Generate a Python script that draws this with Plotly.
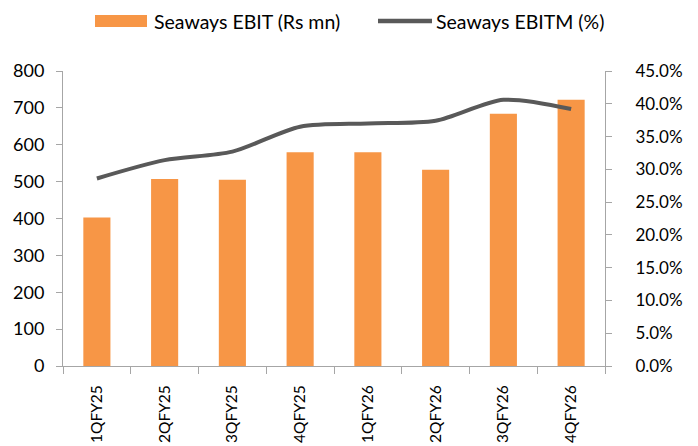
import plotly.graph_objects as go

categories = ["1QFY25", "2QFY25", "3QFY25", "4QFY25", "1QFY26", "2QFY26", "3QFY26", "4QFY26"]
ebit = [403, 507, 505, 580, 580, 532, 684, 722]
ebitm = [28.6, 31.4, 32.7, 36.5, 37.0, 37.4, 40.6, 39.2]
legend_labels = ["Seaways EBIT (Rs mn)", "Seaways EBITM (%)"]

font_family = "Lato, Open Sans, sans-serif"
axis_color = "#A6A6A6"
bar_color = "#F79646"
line_color = "#595959"

W, H = 698, 446
ML, MR, MT, MB = 63, 93, 71, 80
PW, PH = W - ML - MR, H - MT - MB


def px_x(px):
    return (px - ML) / PW


def px_y(py):
    return (H - MB - py) / PH


fig = go.Figure()
fig.add_trace(go.Bar(
    x=categories, y=ebit, name=legend_labels[0],
    marker=dict(color=bar_color, line=dict(width=0)), width=0.40,
    showlegend=False,
))
fig.add_trace(go.Scatter(
    x=categories, y=[v / 100 for v in ebitm], name=legend_labels[1],
    mode="lines", line=dict(color=line_color, width=4, shape="spline", smoothing=0.8),
    yaxis="y2", showlegend=False,
))

# legend drawn in paper space
fig.add_shape(type="rect", xref="paper", yref="paper",
              x0=px_x(95), x1=px_x(147), y0=px_y(27), y1=px_y(15),
              fillcolor=bar_color, line=dict(width=0), layer="above")
fig.add_shape(type="line", xref="paper", yref="paper",
              x0=px_x(378), x1=px_x(432), y0=px_y(21), y1=px_y(21),
              line=dict(color=line_color, width=4.5), layer="above")
fig.add_annotation(xref="paper", yref="paper", x=px_x(152), y=px_y(21),
                   text=legend_labels[0], showarrow=False, xanchor="left", yanchor="middle",
                   font=dict(size=19.5, family=font_family, color="#000000"))
fig.add_annotation(xref="paper", yref="paper", x=px_x(434), y=px_y(21),
                   text=legend_labels[1], showarrow=False, xanchor="left", yanchor="middle",
                   font=dict(size=19.5, family=font_family, color="#000000"))

fig.update_layout(
    width=W, height=H,
    margin=dict(l=ML, r=MR, t=MT, b=MB, autoexpand=False),
    paper_bgcolor="white", plot_bgcolor="white",
    font=dict(family=font_family, size=17, color="#000000"),
    showlegend=False,
    xaxis=dict(
        type="category", showline=True, linecolor=axis_color, linewidth=1,
        ticks="outside", tickson="boundaries", ticklen=7, tickcolor=axis_color,
        tickangle=-90, showgrid=False, tickfont=dict(size=15.5),
        ticklabelstandoff=12,
    ),
    yaxis=dict(
        range=[0, 800], dtick=100, showline=True, linecolor=axis_color, linewidth=1,
        ticks="outside", ticklen=6, tickcolor=axis_color, showgrid=False,
        zeroline=False, tickfont=dict(size=18), ticklabelstandoff=8,
    ),
    yaxis2=dict(
        range=[0, 0.45], dtick=0.05, tickformat=".1%", overlaying="y", side="right",
        showline=True, linecolor=axis_color, linewidth=1,
        ticks="outside", ticklen=6, tickcolor=axis_color, showgrid=False,
        zeroline=False, tickfont=dict(size=17), ticklabelstandoff=20,
    ),
)

fig.write_html("out.html")
